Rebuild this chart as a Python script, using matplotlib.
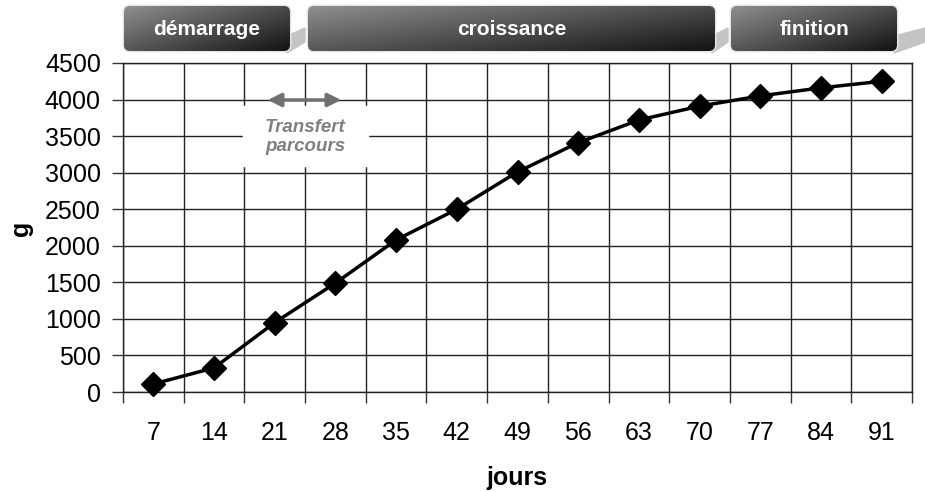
import numpy as np
import matplotlib
matplotlib.use("Agg")
import matplotlib.pyplot as plt
from matplotlib.patches import FancyBboxPatch, Polygon

plt.rcParams['font.family'] = ['Liberation Sans', 'DejaVu Sans']

# data
jours = ['7', '14', '21', '28', '35', '42', '49', '56', '63', '70', '77', '84', '91']
poids = [110, 330, 950, 1490, 2080, 2500, 3010, 3410, 3720, 3910, 4050, 4160, 4250]
y_ticks = [0, 500, 1000, 1500, 2000, 2500, 3000, 3500, 4000, 4500]
phases = ['démarrage', 'croissance', 'finition']

# layout of the banners (figure pixels): left, right, fold width
banner_px = [(124, 290, 15), (308, 715, 13), (731, 897, 28)]

W, H = 925, 492
fig = plt.figure(figsize=(W / 100, H / 100), dpi=100)
ax = fig.add_axes([123 / W, 1 - 392 / H, (912 - 123) / W, (392 - 63) / H])

x = np.arange(len(jours))
ax.plot(x, poids, color='black', lw=2.5, marker='D', ms=12, zorder=5, clip_on=False)

ax.set_xlim(-0.5, len(jours) - 0.5)
ax.set_ylim(0, 4500)
ax.set_xticks(x)
ax.set_xticklabels(jours)
ax.set_xticks(np.arange(-0.5, len(jours), 1), minor=True)
ax.set_yticks(y_ticks)
ax.tick_params(axis='x', which='major', length=0, pad=21, labelsize=18)
ax.tick_params(axis='x', which='minor', length=8, width=1, color='#333333')
ax.tick_params(axis='y', length=8, width=1, color='#333333', labelsize=18, pad=8)
ax.grid(axis='x', which='minor', color='#222222', lw=1)
ax.grid(axis='y', which='major', color='#222222', lw=1)
for s in ax.spines.values():
    s.set_color('#222222')
    s.set_linewidth(1)
ax.set_axisbelow(True)

# axis titles
fig.text(517 / W, 1 - 485 / H, 'jours', ha='center', va='baseline',
         fontsize=18, fontweight='bold')
fig.text(21 / W, 1 - 228 / H, 'g', ha='center', va='center', rotation=90,
         fontsize=18, fontweight='bold')

# overlay in pixel coordinates
ov = fig.add_axes([0, 0, 1, 1], facecolor='none')
ov.set_xlim(0, W)
ov.set_ylim(H, 0)
ov.axis('off')

# transfert annotation
ov.add_patch(plt.Rectangle((243, 106), 125, 60, color='white', zorder=2))
ov.annotate('', xy=(344, 100), xytext=(265, 100),
            arrowprops=dict(arrowstyle='<|-|>', color='#707070', lw=2.5,
                            mutation_scale=20), zorder=3)
ov.text(305, 137, 'Transfert\nparcours', ha='center', va='center', fontsize=13.5,
        fontweight='bold', style='italic', color='#808080', linespacing=1.12, zorder=3)

# phase banners
grad = np.linspace(0, 1, 256)
gx, gy = np.meshgrid(grad, grad)
g = 0.55 * gx + 0.45 * gy
for label, (x0, x1, fw) in zip(phases, banner_px):
    y0, y1 = 6, 51
    ov.add_patch(Polygon([[x1 - 3, 36], [x1 + fw, 28], [x1 + fw, 42], [x1 - 3, 53]],
                         closed=True, color='#c4c4c4', zorder=3))
    box = FancyBboxPatch((x0, y0), x1 - x0, y1 - y0,
                         boxstyle='round,pad=0,rounding_size=6',
                         fc='none', ec='#e6e6e6', lw=2, zorder=4)
    ov.add_patch(box)
    im = ov.imshow(g, extent=(x0, x1, y1, y0), cmap='gray_r', vmin=-0.9, vmax=1.15,
                   aspect='auto', zorder=4, interpolation='bilinear')
    im.set_clip_path(box)
    ov.text((x0 + x1) / 2, 35, label, ha='center', va='baseline', fontsize=15,
            fontweight='bold', color='white', zorder=6)
ov.set_xlim(0, W)
ov.set_ylim(H, 0)

fig.savefig('out.png', dpi=100)
